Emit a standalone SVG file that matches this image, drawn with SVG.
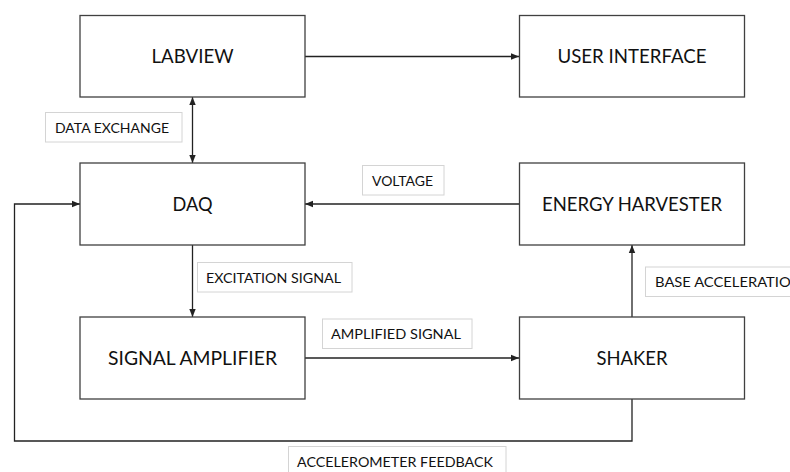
<svg xmlns="http://www.w3.org/2000/svg" width="790" height="472" viewBox="0 0 790 472">
<style>
.node rect{fill:#fff;stroke:#404040;stroke-width:1.3}
.node text{font-family:"Lato","Liberation Sans",sans-serif;font-size:19px;fill:#111;text-anchor:middle}
.lbl rect{fill:#fff;stroke:#d4d4d4;stroke-width:1}
.lbl text{font-family:"Lato","Liberation Sans",sans-serif;font-size:14px;fill:#111}
.conn path{fill:none;stroke:#222;stroke-width:1.3}
</style>
<defs>
<marker id="ah" viewBox="0 0 8 8" refX="8" refY="4" markerWidth="8" markerHeight="8" markerUnits="userSpaceOnUse" orient="auto-start-reverse">
<path d="M0,0.8 L8,4 L0,7.2 z" fill="#222"/>
</marker>
</defs>
<rect width="790" height="472" fill="#fff"/>
<g class="conn">
<path d="M305,56.5 H519" marker-end="url(#ah)"/>
<path d="M192.5,97 V163" marker-start="url(#ah)" marker-end="url(#ah)"/>
<path d="M519,204 H305" marker-end="url(#ah)"/>
<path d="M192.5,245 V317" marker-end="url(#ah)"/>
<path d="M305,358 H519" marker-end="url(#ah)"/>
<path d="M632,317 V245" marker-end="url(#ah)"/>
<path d="M632,399 V441 H14.5 V204 H80" marker-end="url(#ah)"/>
</g>
<g id="labview" class="node"><rect x="80" y="15.5" width="225" height="81.5"/><text x="192.5" y="63" textLength="82" lengthAdjust="spacingAndGlyphs">LABVIEW</text></g>
<g id="user-interface" class="node"><rect x="519.5" y="15.5" width="225" height="81.5"/><text x="632" y="63" textLength="149" lengthAdjust="spacingAndGlyphs">USER INTERFACE</text></g>
<g id="daq" class="node"><rect x="80" y="163" width="225" height="82"/><text x="192.5" y="211" textLength="40" lengthAdjust="spacingAndGlyphs">DAQ</text></g>
<g id="energy-harvester" class="node"><rect x="519.5" y="163" width="225" height="82"/><text x="632" y="211" textLength="180" lengthAdjust="spacingAndGlyphs">ENERGY HARVESTER</text></g>
<g id="signal-amplifier" class="node"><rect x="80" y="317" width="225" height="82"/><text x="192.5" y="365" textLength="169" lengthAdjust="spacingAndGlyphs">SIGNAL AMPLIFIER</text></g>
<g id="shaker" class="node"><rect x="519.5" y="317" width="225" height="82"/><text x="632" y="365" textLength="71" lengthAdjust="spacingAndGlyphs">SHAKER</text></g>
<g id="lbl-data-exchange" class="lbl"><rect x="45.5" y="112.5" width="136.5" height="29.5"/><text x="55" y="132.5" textLength="114" lengthAdjust="spacingAndGlyphs">DATA EXCHANGE</text></g>
<g id="lbl-voltage" class="lbl"><rect x="362.5" y="165.5" width="81.5" height="29.5"/><text x="372" y="185.5" textLength="61" lengthAdjust="spacingAndGlyphs">VOLTAGE</text></g>
<g id="lbl-excitation" class="lbl"><rect x="197.5" y="262.5" width="154.5" height="29.5"/><text x="206" y="282.5" textLength="135" lengthAdjust="spacingAndGlyphs">EXCITATION SIGNAL</text></g>
<g id="lbl-amplified" class="lbl"><rect x="322.5" y="319" width="149.5" height="29.5"/><text x="331" y="339" textLength="130" lengthAdjust="spacingAndGlyphs">AMPLIFIED SIGNAL</text></g>
<g id="lbl-base-accel" class="lbl"><rect x="645.5" y="267" width="160" height="29.5"/><text x="655" y="287" textLength="147" lengthAdjust="spacingAndGlyphs">BASE ACCELERATION</text></g>
<g id="lbl-accel-feedback" class="lbl"><rect x="288.5" y="446.5" width="217.5" height="40"/><text x="297" y="466.5" textLength="196" lengthAdjust="spacingAndGlyphs">ACCELEROMETER FEEDBACK</text></g>
</svg>
